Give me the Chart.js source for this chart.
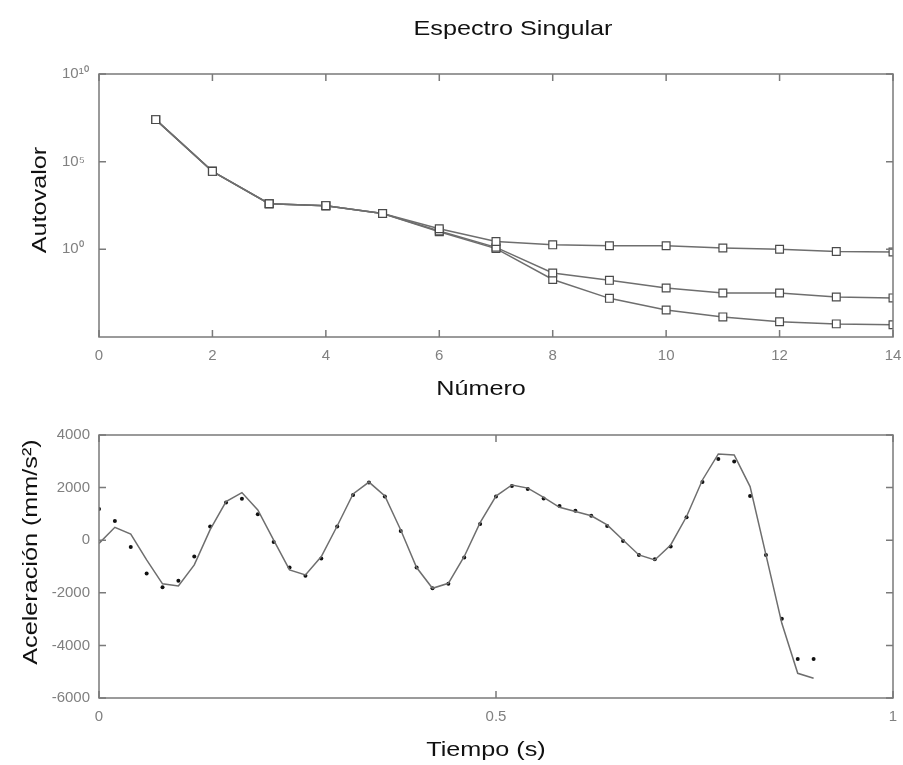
<!DOCTYPE html>
<html>
<head>
<meta charset="utf-8">
<title>Espectro Singular</title>
<script src="https://cdn.jsdelivr.net/npm/chart.js@4.4.1/dist/chart.umd.min.js"></script>
<style>
  body { margin: 0; background: #fff; }
  canvas { position: absolute; left: 0; }
  #arriba { top: 0; }
  #abajo { top: 410px; }
</style>
</head>
<body>
<canvas id="arriba" width="903" height="410"></canvas>
<canvas id="abajo" width="903" height="355"></canvas>
<script>
// espectro singular (3 series, comparten los primeros puntos)
var numero = [1, 2, 3, 4, 5, 6, 7, 8, 9, 10, 11, 12, 13, 14];
var autovalorA = [2.5e7, 2.8e4, 400, 310, 110, 15, 2.8, 1.8, 1.6, 1.6, 1.2, 1.0, 0.76, 0.71];
var autovalorB = [2.5e7, 2.8e4, 400, 310, 110, 11, 1.3, 0.045, 0.017, 0.0062, 0.0032, 0.0032, 0.0019, 0.0017];
var autovalorC = [2.5e7, 2.8e4, 400, 310, 110, 10, 1.1, 0.019, 0.0016, 3.5e-4, 1.4e-4, 7.4e-5, 5.6e-5, 5.0e-5];
var ticksAutovalor = [1, 1e5, 1e10];
var etiquetasAutovalor = ['10\u2070', '10\u2075', '10\u00b9\u2070'];

// aceleracion: puntos medidos y curva reconstruida
var tiempo = [0, 0.02, 0.04, 0.06, 0.08, 0.10, 0.12, 0.14, 0.16, 0.18,
  0.20, 0.22, 0.24, 0.26, 0.28, 0.30, 0.32, 0.34, 0.36, 0.38,
  0.40, 0.42, 0.44, 0.46, 0.48, 0.50, 0.52, 0.54, 0.56, 0.58,
  0.60, 0.62, 0.64, 0.66, 0.68, 0.70, 0.72, 0.74, 0.76, 0.78,
  0.80, 0.82, 0.84, 0.86, 0.88, 0.90];
var medida = [1190, 730, -260, -1270, -1790, -1540, -620, 520, 1430, 1580,
  990, -70, -1040, -1350, -700, 520, 1720, 2190, 1660, 350,
  -1040, -1830, -1660, -660, 620, 1660, 2060, 1950, 1590, 1300,
  1120, 930, 540, -30, -560, -720, -240, 870, 2210, 3090,
  2990, 1680, -560, -2990, -4520, -4520];
var reconstruida = [-120, 490, 230, -750, -1660, -1740, -940, 400, 1470, 1810,
  1150, 0, -1130, -1320, -620, 540, 1760, 2210, 1680, 390,
  -1040, -1830, -1640, -620, 670, 1680, 2100, 1980, 1630, 1250,
  1090, 930, 580, 10, -560, -750, -180, 900, 2290, 3280,
  3240, 2040, -560, -3160, -5060, -5250];

var FUENTE = '"Liberation Sans", Arial, Helvetica, sans-serif';
var EJE = '#7a7a7a';

function puntos(xs, ys) {
  return xs.map(function(x, i){ return {x: x, y: ys[i]}; });
}

// caja y marcas hacia dentro (estilo matlab)
var marco = {
  id: 'marco',
  afterDraw: function(chart){
    var a = chart.chartArea, ctx = chart.ctx, L = 7;
    var sx = chart.scales.x, sy = chart.scales.y;
    ctx.save();
    ctx.strokeStyle = EJE;
    ctx.lineWidth = 1.5;
    ctx.strokeRect(a.left, a.top, a.right - a.left, a.bottom - a.top);
    ctx.beginPath();
    sx.ticks.forEach(function(t){
      var p = sx.getPixelForValue(t.value);
      ctx.moveTo(p, a.bottom); ctx.lineTo(p, a.bottom - L);
      ctx.moveTo(p, a.top); ctx.lineTo(p, a.top + L);
    });
    sy.ticks.forEach(function(t){
      var p = sy.getPixelForValue(t.value);
      ctx.moveTo(a.left, p); ctx.lineTo(a.left + L, p);
      ctx.moveTo(a.right, p); ctx.lineTo(a.right - L, p);
    });
    ctx.stroke();
    ctx.restore();
  }
};

// titulos en posicion fija (el original esta algo estirado en horizontal)
var textos = {
  id: 'textos',
  afterDraw: function(chart, args, opts){
    var ctx = chart.ctx;
    (opts.items || []).forEach(function(t){
      ctx.save();
      ctx.translate(t.x, t.y);
      if (t.rot) ctx.rotate(-Math.PI / 2);
      ctx.scale(1.2, 1);
      ctx.font = '21px ' + FUENTE;
      ctx.fillStyle = '#111';
      ctx.textAlign = 'center';
      ctx.textBaseline = 'alphabetic';
      ctx.fillText(t.text, 0, 0);
      ctx.restore();
    });
  }
};

var tickFont = {size: 15, family: FUENTE};

function eje(extra){
  var base = {
    grid: {display: false, drawTicks: false},
    border: {display: false},
    ticks: {color: '#808080', font: tickFont}
  };
  Object.keys(extra).forEach(function(k){
    if (k === 'ticks') Object.assign(base.ticks, extra.ticks);
    else base[k] = extra[k];
  });
  return base;
}

// sin "1.0" ni "4,000"
function texto(v){ return String(v); }

function serie(valores){
  return {
    data: puntos(numero, valores),
    borderColor: '#6e6e6e',
    borderWidth: 1.5,
    pointStyle: 'rect',
    pointRadius: 5.5,
    pointBorderWidth: 1.2,
    pointBorderColor: '#4a4a4a',
    pointBackgroundColor: '#fff',
    tension: 0
  };
}

function ejeX(min, max, paso, alto){
  return eje({
    type: 'linear', min: min, max: max,
    ticks: {stepSize: paso, padding: 10, callback: texto},
    afterFit: function(s){ s.height = alto; s.paddingLeft = 0; s.paddingRight = 0; }
  });
}

new Chart(document.getElementById('arriba'), {
  type: 'line',
  data: {datasets: [serie(autovalorA), serie(autovalorB), serie(autovalorC)]},
  options: {
    responsive: false,
    animation: false,
    layout: {padding: {top: 74, left: 62, right: 10, bottom: 0}},
    plugins: {
      legend: {display: false},
      tooltip: {enabled: false},
      textos: {items: [
        {text: 'Espectro Singular', x: 513, y: 35},
        {text: 'Número', x: 481, y: 395},
        {text: 'Autovalor', x: 46, y: 200, rot: true}
      ]}
    },
    scales: {
      x: ejeX(0, 14, 2, 73),
      y: eje({
        type: 'logarithmic', min: 1e-5, max: 1e10,
        ticks: {
          crossAlign: 'far',
          callback: function(v){
            var i = ticksAutovalor.indexOf(v);
            return i < 0 ? '' : etiquetasAutovalor[i];
          }
        },
        afterBuildTicks: function(s){
          s.ticks = ticksAutovalor.map(function(v){ return {value: v}; });
        },
        afterFit: function(s){ s.width = 37; s.paddingTop = 0; s.paddingBottom = 0; }
      })
    }
  },
  plugins: [marco, textos]
});

new Chart(document.getElementById('abajo'), {
  type: 'line',
  data: {datasets: [
    {
      data: puntos(tiempo, reconstruida),
      borderColor: '#6e6e6e',
      borderWidth: 1.5,
      pointRadius: 0,
      tension: 0
    },
    {
      data: puntos(tiempo, medida),
      showLine: false,
      pointRadius: 2,
      pointBorderWidth: 0,
      pointBackgroundColor: '#111',
      borderColor: '#111'
    }
  ]},
  options: {
    responsive: false,
    animation: false,
    layout: {padding: {top: 25, left: 0, right: 10, bottom: 0}},
    plugins: {
      legend: {display: false},
      tooltip: {enabled: false},
      textos: {items: [
        {text: 'Tiempo (s)', x: 486, y: 346},
        {text: 'Aceleración (mm/s²)', x: 37, y: 142, rot: true}
      ]}
    },
    scales: {
      x: ejeX(0, 1, 0.5, 67),
      y: eje({
        type: 'linear', min: -6000, max: 4000,
        ticks: {stepSize: 2000, padding: 9, callback: texto},
        afterFit: function(s){ s.width = 99; s.paddingTop = 0; s.paddingBottom = 0; }
      })
    }
  },
  plugins: [marco, textos]
});
</script>
</body>
</html>
